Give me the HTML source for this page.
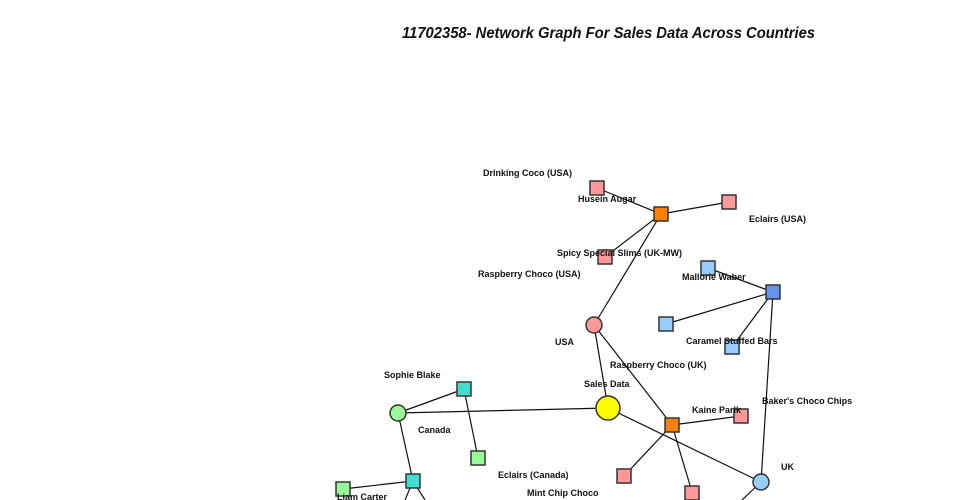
<!DOCTYPE html>
<html><head><style>body{margin:0;background:#fff}svg{display:block}text{font-family:"Liberation Sans",sans-serif;font-weight:bold;font-size:9px;fill:#111}</style></head>
<body><svg width="960" height="500" viewBox="0 0 960 500">
<text x="402" y="38" textLength="413" lengthAdjust="spacingAndGlyphs" style="font-size:16px;font-style:italic">11702358- Network Graph For Sales Data Across Countries</text>
<g stroke="#111" stroke-width="1.2">
<line x1="608" y1="408" x2="594" y2="325"/><line x1="608" y1="408" x2="398" y2="413"/><line x1="608" y1="408" x2="761" y2="482"/>
<line x1="594" y1="325" x2="661" y2="214"/><line x1="661" y1="214" x2="597" y2="188"/><line x1="661" y1="214" x2="729" y2="202"/><line x1="661" y1="214" x2="605" y2="257"/>
<line x1="594" y1="325" x2="672" y2="425"/><line x1="672" y1="425" x2="741" y2="416"/><line x1="672" y1="425" x2="624" y2="476"/><line x1="672" y1="425" x2="692" y2="492"/>
<line x1="761" y1="482" x2="773" y2="292"/><line x1="773" y1="292" x2="708" y2="268"/><line x1="773" y1="292" x2="666" y2="324"/><line x1="773" y1="292" x2="732" y2="347"/>
<line x1="761" y1="482" x2="742" y2="500"/>
<line x1="398" y1="413" x2="464" y2="389"/><line x1="464" y1="389" x2="478" y2="458"/><line x1="398" y1="413" x2="413" y2="481"/><line x1="413" y1="481" x2="343" y2="489"/>
<line x1="413" y1="481" x2="405" y2="500"/><line x1="413" y1="481" x2="425" y2="500"/>
</g>
<g stroke="#333" stroke-width="1.5">
<circle cx="608" cy="408" r="12" fill="#ffff00"/><circle cx="398" cy="413" r="8" fill="#98fb98"/><circle cx="594" cy="325" r="8" fill="#ff9999"/><circle cx="761" cy="482" r="8" fill="#99ccff"/>
<rect x="654" y="207" width="14" height="14" fill="#ff7f00"/><rect x="665" y="418" width="14" height="14" fill="#ff7f00"/>
<rect x="590" y="181" width="14" height="14" fill="#ff9999"/><rect x="722" y="195" width="14" height="14" fill="#ff9999"/><rect x="598" y="250" width="14" height="14" fill="#ff9999"/>
<rect x="734" y="409" width="14" height="14" fill="#ff9999"/><rect x="617" y="469" width="14" height="14" fill="#ff9999"/><rect x="685" y="486" width="14" height="14" fill="#ff9999"/>
<rect x="766" y="285" width="14" height="14" fill="#6495ed"/><rect x="701" y="261" width="14" height="14" fill="#99ccff"/><rect x="659" y="317" width="14" height="14" fill="#99ccff"/><rect x="725" y="340" width="14" height="14" fill="#99ccff"/>
<rect x="457" y="382" width="14" height="14" fill="#40e0d0"/><rect x="406" y="474" width="14" height="14" fill="#40e0d0"/>
<rect x="471" y="451" width="14" height="14" fill="#98fb98"/><rect x="336" y="482" width="14" height="14" fill="#98fb98"/>
</g>
<text x="483" y="176">Drinking Coco (USA)</text><text x="578" y="202">Husein Augar</text><text x="749" y="222">Eclairs (USA)</text>
<text x="557" y="256">Spicy Special Slims (UK-MW)</text><text x="478" y="277">Raspberry Choco (USA)</text><text x="682" y="280">Mallorie Waber</text>
<text x="686" y="344">Caramel Stuffed Bars</text><text x="555" y="345">USA</text><text x="610" y="368">Raspberry Choco (UK)</text>
<text x="584" y="387">Sales Data</text><text x="762" y="404">Baker's Choco Chips</text><text x="692" y="413">Kaine Parlk</text>
<text x="384" y="378">Sophie Blake</text><text x="418" y="433">Canada</text><text x="781" y="470">UK</text>
<text x="498" y="478">Eclairs (Canada)</text><text x="527" y="496">Mint Chip Choco</text><text x="337" y="500">Liam Carter</text>
</svg></body></html>
